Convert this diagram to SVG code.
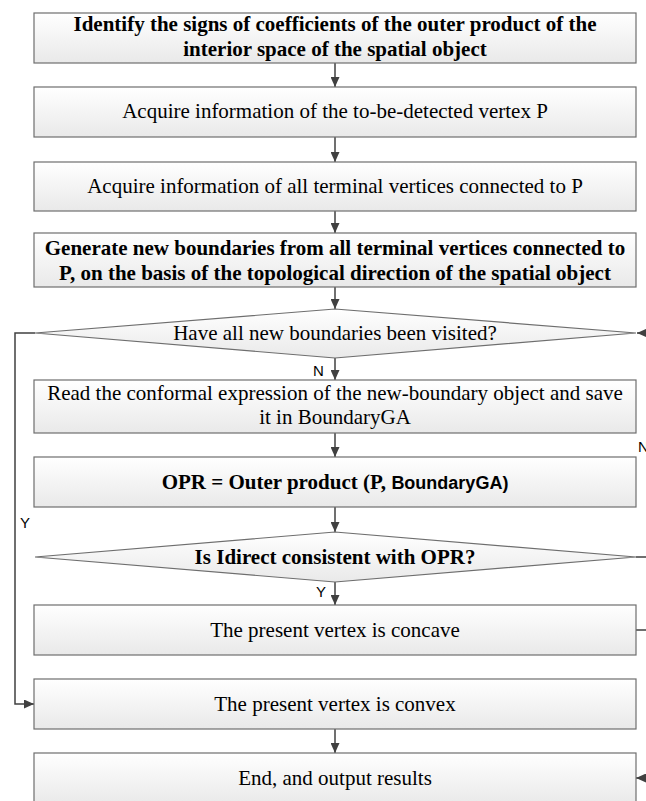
<svg xmlns="http://www.w3.org/2000/svg" width="646" height="801" viewBox="0 0 646 801">
<style>
.box{fill:url(#g);stroke:#6e6e6e;stroke-width:1.2}
.t{font-family:"Liberation Serif","Times New Roman",serif;font-size:21px;fill:#000;text-anchor:middle}
.b{font-weight:bold}
.s{font-family:"Liberation Sans",Arial,sans-serif;font-size:15px;fill:#000}
.c{fill:none;stroke:#404040;stroke-width:1.5}
</style>
<defs>
<linearGradient id="g" x1="0" y1="0" x2="0" y2="1">
<stop offset="0" stop-color="#ffffff"/>
<stop offset="1" stop-color="#e9e9e9"/>
</linearGradient>
<marker id="a" markerUnits="userSpaceOnUse" markerWidth="10" markerHeight="9" refX="10" refY="4.5" orient="auto">
<path d="M0,0 L10,4.5 L0,9 z" fill="#404040"/>
</marker>
</defs>
<g id="connectors">
<path class="c" d="M335,63 V87" marker-end="url(#a)"/>
<path class="c" d="M335,137 V162" marker-end="url(#a)"/>
<path class="c" d="M335,211 V233" marker-end="url(#a)"/>
<path class="c" d="M335,287 V309" marker-end="url(#a)"/>
<path class="c" d="M335,358 V380" marker-end="url(#a)"/>
<path class="c" d="M335,433 V457" marker-end="url(#a)"/>
<path class="c" d="M335,507 V532" marker-end="url(#a)"/>
<path class="c" d="M335,582 V605" marker-end="url(#a)"/>
<path class="c" d="M335,729 V753" marker-end="url(#a)"/>
<path class="c" d="M35,333 H15 V704 H34" marker-end="url(#a)"/>
<path class="c" d="M636,630 H660 V333 H637" marker-end="url(#a)"/>
<path class="c" d="M636,557 H660 V778 H636" marker-end="url(#a)"/>
<text class="s" x="313" y="376">N</text>
<text class="s" x="316" y="597">Y</text>
<text class="s" x="20" y="528">Y</text>
<text class="s" x="638" y="452">N</text>
</g>
<g id="n1">
<rect class="box" x="34" y="13" width="602" height="50"/>
<text class="t b" x="335" y="31">Identify the signs of coefficients of the outer product of the</text>
<text class="t b" x="335" y="56">interior space of the spatial object</text>
</g>
<g id="n2">
<rect class="box" x="34" y="87" width="602" height="50"/>
<text class="t" x="335" y="118">Acquire information of the to-be-detected vertex P</text>
</g>
<g id="n3">
<rect class="box" x="34" y="162" width="602" height="49"/>
<text class="t" x="335" y="193">Acquire information of all terminal vertices connected to P</text>
</g>
<g id="n4">
<rect class="box" x="34" y="233" width="602" height="54"/>
<text class="t b" x="335" y="255">Generate new boundaries from all terminal vertices connected to</text>
<text class="t b" x="335" y="280">P, on the basis of the topological direction of the spatial object</text>
</g>
<g id="d1">
<polygon class="box" points="35,333 335,309 636,333 335,358"/>
<text class="t" x="335" y="340">Have all new boundaries been visited?</text>
</g>
<g id="n5">
<rect class="box" x="34" y="380" width="602" height="53"/>
<text class="t" x="335" y="400">Read the conformal expression of the new-boundary object and save</text>
<text class="t" x="335" y="424">it in BoundaryGA</text>
</g>
<g id="n6">
<rect class="box" x="34" y="457" width="602" height="50"/>
<text class="t b" x="335" y="489">OPR = Outer product (P, <tspan font-family="'Liberation Sans',Arial,sans-serif" font-size="18">BoundaryGA)</tspan></text>
</g>
<g id="d2">
<polygon class="box" points="35,557 335,532 636,557 335,582"/>
<text class="t b" x="335" y="564">Is Idirect consistent with OPR?</text>
</g>
<g id="n7">
<rect class="box" x="34" y="605" width="602" height="50"/>
<text class="t" x="335" y="637">The present vertex is concave</text>
</g>
<g id="n8">
<rect class="box" x="34" y="679" width="602" height="50"/>
<text class="t" x="335" y="711">The present vertex is convex</text>
</g>
<g id="n9">
<rect class="box" x="34" y="753" width="602" height="52"/>
<text class="t" x="335" y="785">End, and output results</text>
</g>
</svg>
